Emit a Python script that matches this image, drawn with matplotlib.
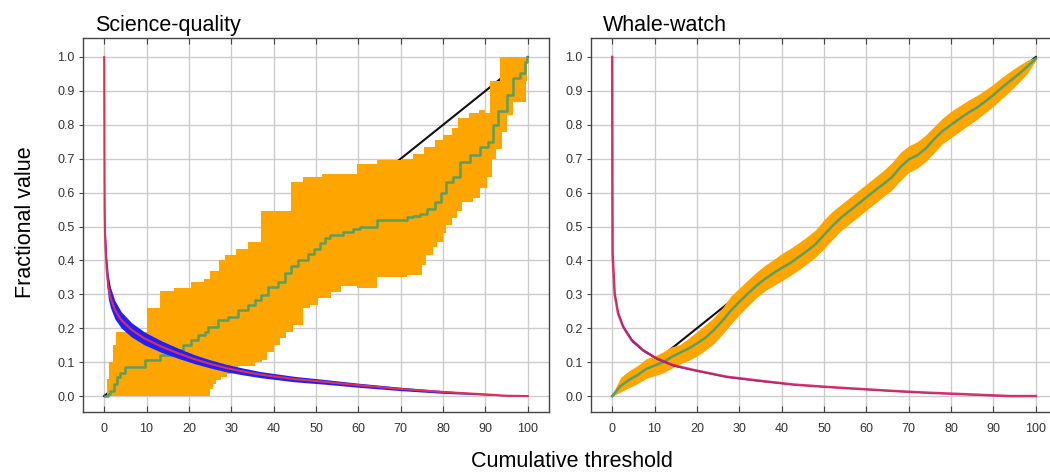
import matplotlib
matplotlib.use("Agg")
import matplotlib.pyplot as plt
import numpy as np

plt.rcParams.update({
    'font.family': ['Liberation Sans', 'DejaVu Sans'],
    'axes.edgecolor': '#444444',
    'axes.linewidth': 1.0,
    'xtick.color': '#444444',
    'ytick.color': '#444444',
    'xtick.labelcolor': '#333333',
    'ytick.labelcolor': '#333333',
    'xtick.labelsize': 9,
    'ytick.labelsize': 9,
})

COLORS = {
    'band': '#ffa500',
    'mean': '#5a9f62',
    'diag': '#111111',
    'area': '#e0304f',
    'area_sd': '#1f1fff',
    'grid': '#cccccc',
}

# ---- Science-quality panel (step curves: x where each step starts) ----
sq_up_x = [0.4, 0.7, 1.2, 2.0, 2.8, 10.0, 13.2, 16.5, 20.5, 23.5, 25.0, 27.0, 28.5, 31.0, 34.0,
           37.0, 44.0, 47.0, 51.5, 59.6, 64.3, 70.0, 73.0, 75.5, 78.0, 80.0, 82.0, 83.5, 86.0,
           88.5, 90.0, 91.0, 93.5, 100.0]
sq_up_y = [0.0, 0.05, 0.10, 0.15, 0.19, 0.26, 0.31, 0.32, 0.335, 0.345, 0.37, 0.40, 0.415, 0.435, 0.455,
           0.545, 0.63, 0.645, 0.655, 0.685, 0.695, 0.70, 0.715, 0.735, 0.755, 0.77, 0.79, 0.82, 0.835,
           0.845, 0.835, 0.93, 1.0, 1.0]

sq_lo_x = [0.4, 25.0, 25.8, 26.5, 27.5, 29.0, 30.0, 31.5, 35.5, 37.2, 38.5, 40.0, 41.5, 43.0, 44.5,
           46.9, 48.5, 50.5, 53.5, 56.0, 59.6, 64.3, 71.5, 75.0, 76.0, 77.5, 78.5, 80.0, 80.8, 82.0,
           83.2, 84.4, 87.0, 88.7, 90.3, 91.5, 92.6, 93.8, 95.0, 96.5, 99.5, 99.8, 100.0]
sq_lo_y = [0.0, 0.02, 0.035, 0.047, 0.057, 0.065, 0.077, 0.09, 0.10, 0.105, 0.13, 0.15, 0.17, 0.19, 0.21,
           0.26, 0.27, 0.29, 0.307, 0.325, 0.318, 0.352, 0.357, 0.386, 0.416, 0.44, 0.455, 0.48, 0.505, 0.525,
           0.545, 0.573, 0.585, 0.613, 0.647, 0.70, 0.73, 0.78, 0.83, 0.868, 0.93, 1.0, 1.0]

sq_mean_x = [0.3, 0.8, 1.4, 2.2, 3.0, 3.8, 5.0, 9.7, 13.2, 15.9, 18.7, 20.6, 22.2, 23.8, 24.6, 26.9,
             29.2, 31.6, 34.0, 35.6, 37.1, 38.7, 41.0, 42.6, 44.2, 45.8, 48.2, 49.5, 51.0, 52.1, 53.3,
             56.4, 58.8, 60.4, 64.3, 71.4, 73.0, 74.5, 76.1, 78.1, 79.5, 80.8, 82.4, 84.0, 86.3, 88.7,
             90.5, 91.8, 93.0, 95.0, 96.5, 98.1, 99.3, 99.8]
sq_mean_y = [0.0, 0.005, 0.015, 0.037, 0.057, 0.067, 0.087, 0.106, 0.12, 0.135, 0.15, 0.165, 0.18, 0.19,
             0.204, 0.224, 0.234, 0.254, 0.268, 0.283, 0.298, 0.322, 0.337, 0.362, 0.385, 0.40, 0.42,
             0.435, 0.45, 0.465, 0.475, 0.485, 0.494, 0.50, 0.52, 0.527, 0.532, 0.538, 0.553, 0.573,
             0.60, 0.632, 0.647, 0.69, 0.71, 0.735, 0.75, 0.80, 0.84, 0.888, 0.937, 0.952, 0.986, 1.0]

sq_area_x = [0, 0.05, 0.1, 0.2, 0.3, 0.6, 1.0, 1.5, 2.5, 4, 6.5, 9.5, 13.5, 17.5, 21.5, 25, 29, 33, 37,
             45, 52, 60, 70, 80, 90, 95, 100]
sq_area = [1.0, 0.75, 0.55, 0.47, 0.44, 0.37, 0.32, 0.29, 0.255, 0.225, 0.195, 0.17, 0.146, 0.126, 0.108,
           0.095, 0.082, 0.072, 0.063, 0.05, 0.042, 0.032, 0.021, 0.012, 0.005, 0.001, 0.0]
sq_area_hi = [1.0, 0.75, 0.59, 0.52, 0.485, 0.41, 0.355, 0.32, 0.282, 0.249, 0.216, 0.189, 0.163, 0.141,
              0.121, 0.107, 0.093, 0.082, 0.072, 0.058, 0.049, 0.038, 0.026, 0.016, 0.007, 0.002, 0.0]
sq_area_lo = [1.0, 0.72, 0.51, 0.42, 0.395, 0.33, 0.285, 0.26, 0.228, 0.201, 0.174, 0.151, 0.129, 0.111,
              0.095, 0.083, 0.071, 0.062, 0.054, 0.042, 0.035, 0.026, 0.016, 0.008, 0.003, 0.0, 0.0]

# ---- Whale-watch panel ----
ww_x = [0, 2, 4, 6, 8, 10, 12, 14, 16, 18, 20, 22, 24, 26, 28, 30, 32, 34, 36, 38, 40, 42, 44, 46, 48,
        50, 52, 54, 56, 58, 60, 62, 64, 66, 68, 70, 72, 74, 76, 78, 80, 82, 84, 86, 88, 90, 92, 94, 96,
        98, 100]
ww_mean = [0.0, 0.03, 0.048, 0.062, 0.08, 0.09, 0.10, 0.115, 0.128, 0.14, 0.155, 0.172, 0.195, 0.222,
           0.252, 0.278, 0.302, 0.325, 0.345, 0.362, 0.378, 0.392, 0.41, 0.428, 0.448, 0.475, 0.502,
           0.526, 0.546, 0.566, 0.586, 0.606, 0.625, 0.645, 0.675, 0.698, 0.71, 0.73, 0.758, 0.782,
           0.80, 0.818, 0.835, 0.85, 0.868, 0.888, 0.91, 0.93, 0.95, 0.972, 0.995]
ww_hi = [0.005, 0.055, 0.075, 0.09, 0.11, 0.118, 0.13, 0.145, 0.152, 0.17, 0.19, 0.21, 0.232, 0.26,
         0.295, 0.318, 0.342, 0.365, 0.385, 0.402, 0.42, 0.435, 0.452, 0.47, 0.49, 0.52, 0.545, 0.565,
         0.585, 0.605, 0.625, 0.645, 0.665, 0.688, 0.718, 0.738, 0.75, 0.77, 0.795, 0.82, 0.84,
         0.856, 0.872, 0.886, 0.902, 0.92, 0.94, 0.958, 0.975, 0.99, 1.0]
ww_lo = [0.0, 0.012, 0.025, 0.037, 0.052, 0.06, 0.068, 0.082, 0.095, 0.105, 0.118, 0.135, 0.155, 0.182,
         0.212, 0.24, 0.265, 0.29, 0.31, 0.325, 0.34, 0.355, 0.372, 0.39, 0.41, 0.435, 0.462, 0.488,
         0.508, 0.528, 0.548, 0.568, 0.588, 0.608, 0.635, 0.66, 0.672, 0.692, 0.718, 0.745, 0.762,
         0.78, 0.798, 0.815, 0.835, 0.855, 0.878, 0.90, 0.925, 0.952, 0.99]

ww_area_x = [0, 0.05, 0.1, 0.25, 0.6, 1.4, 2.6, 4.6, 7.3, 10.5, 14.4, 19.2, 27, 35, 42.8, 50.7, 58.6,
             66.5, 74.4, 82.3, 90, 94, 100]
ww_area = [1.0, 0.6, 0.42, 0.38, 0.30, 0.243, 0.204, 0.165, 0.135, 0.111, 0.091, 0.077, 0.057, 0.045,
           0.034, 0.027, 0.021, 0.015, 0.01, 0.006, 0.002, 0.0, 0.0]
ww_area_hi = [1.0, 0.6, 0.425, 0.386, 0.306, 0.249, 0.209, 0.17, 0.139, 0.114, 0.094, 0.079, 0.059,
              0.047, 0.035, 0.028, 0.022, 0.016, 0.011, 0.006, 0.002, 0.0, 0.0]
ww_area_lo = [1.0, 0.6, 0.415, 0.374, 0.294, 0.237, 0.199, 0.16, 0.131, 0.108, 0.088, 0.075, 0.055,
              0.043, 0.033, 0.026, 0.02, 0.014, 0.009, 0.005, 0.001, 0.0, 0.0]

TICKS_X = [0, 10, 20, 30, 40, 50, 60, 70, 80, 90, 100]
TICKS_Y = [0.0, 0.1, 0.2, 0.3, 0.4, 0.5, 0.6, 0.7, 0.8, 0.9, 1.0]


def style_axes(ax, title):
    ax.set_xlim(-5, 105)
    ax.set_ylim(-0.047, 1.056)
    ax.set_xticks(TICKS_X)
    ax.set_yticks(TICKS_Y)
    ax.set_yticklabels([f"{v:.1f}" for v in TICKS_Y])
    ax.grid(True, color=COLORS['grid'], linewidth=1.0)
    ax.set_axisbelow(True)
    ax.tick_params(axis='x', direction='in', length=4, top=True, pad=8)
    ax.tick_params(axis='y', direction='out', length=3, pad=3)
    ax.set_title(title, loc='left', x=0.025, fontsize=15.5, pad=5)


def step_band(up_x, up_y, lo_x, lo_y):
    """Put both step edges on one shared x grid."""
    x_all = np.union1d(up_x, lo_x)
    iu = np.clip(np.searchsorted(up_x, x_all, side='right') - 1, 0, None)
    il = np.clip(np.searchsorted(lo_x, x_all, side='right') - 1, 0, None)
    return x_all, np.array(lo_y)[il], np.array(up_y)[iu]


fig = plt.figure(figsize=(10.5, 4.72), dpi=100)
ax1 = fig.add_axes([83 / 1050, 60 / 472, 466 / 1050, 374 / 472])
ax2 = fig.add_axes([591 / 1050, 60 / 472, 466 / 1050, 374 / 472])

# left panel
ax1.plot([0, 100], [0, 1], color=COLORS['diag'], lw=1.5, zorder=2)
bx, blo, bhi = step_band(sq_up_x, sq_up_y, sq_lo_x, sq_lo_y)
ax1.fill_between(bx, blo, bhi, step='post', color=COLORS['band'], lw=0, zorder=3)
ax1.plot(sq_mean_x, sq_mean_y, color=COLORS['mean'], lw=1.8, drawstyle='steps-post', zorder=4)
ax1.fill_between(sq_area_x, sq_area_lo, sq_area_hi, color=COLORS['area_sd'], lw=0, zorder=5)
ax1.plot(sq_area_x, sq_area, color=COLORS['area'], lw=1.5, zorder=6)
style_axes(ax1, "Science-quality")

# right panel
ax2.plot([0, 100], [0, 1], color=COLORS['diag'], lw=1.5, zorder=2)
ax2.fill_between(ww_x, ww_lo, ww_hi, color=COLORS['band'], lw=0, zorder=3)
ax2.plot(ww_x, ww_mean, color=COLORS['mean'], lw=1.8, zorder=4)
ax2.fill_between(ww_area_x, ww_area_lo, ww_area_hi, color=COLORS['area_sd'], lw=0, zorder=5)
ax2.plot(ww_area_x, ww_area, color='#d0205a', lw=1.8, alpha=0.9, zorder=6)
style_axes(ax2, "Whale-watch")

fig.text(0.024, 0.53, "Fractional value", rotation=90, ha='center', va='center', fontsize=15.5)
fig.text(0.545, 0.022, "Cumulative threshold", ha='center', va='center', fontsize=15.5)

fig.savefig("out.png", dpi=100)
